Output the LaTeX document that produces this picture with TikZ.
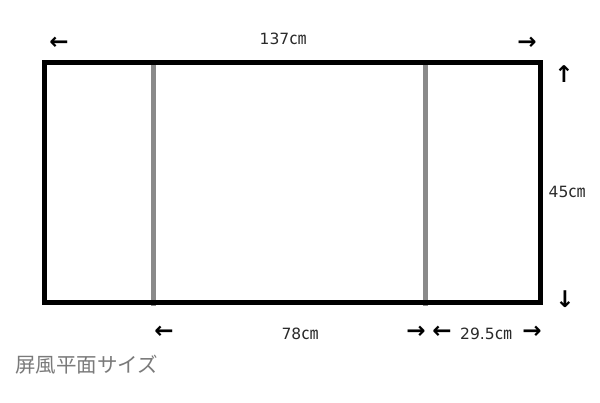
\documentclass[tikz,border=0pt]{standalone}
\usepackage{fontspec}
\setmainfont{DejaVu Sans}
\newfontfamily\jp{Noto Sans CJK JP}
\newfontfamily\arr{DejaVu Sans}
\newcommand{\cmunit}{{\jp\fontsize{17}{18}\selectfont ㎝}}
\definecolor{dimtext}{HTML}{2A2A2A}
\definecolor{panel}{HTML}{8A8A8A}
\definecolor{captxt}{HTML}{7A7A7A}
\begin{document}
\begin{tikzpicture}[x=1pt,y=-1pt,
  dimlabel/.style={inner sep=0pt,text=dimtext,font=\fontsize{15.5}{17}\selectfont},
  arrowglyph/.style={inner sep=0pt,text=black,font=\arr\bfseries\fontsize{23}{24}\selectfont},
  caption/.style={inner sep=0pt,text=captxt,font=\jp\fontsize{20.5}{22}\selectfont,anchor=west}]
\useasboundingbox[fill=white] (0,0) rectangle (600,403);
% panels
\draw[panel,line width=4.5pt] (153.5,62) -- (153.5,306);
\draw[panel,line width=4.5pt] (425.5,62) -- (425.5,306);
\draw[black,line width=5pt] (44.5,62.5) rectangle (540.5,302.5);
% top dimension
\node[arrowglyph] (tl) at (59,43) {←};
\node[dimlabel] (w) at (283,39) {137\cmunit};
\node[arrowglyph] (tr) at (527,43) {→};
% right dimension
\node[arrowglyph] (up) at (564,74) {↑};
\node[dimlabel] (h) at (567,192) {45\cmunit};
\node[arrowglyph] (dn) at (565,299) {↓};
% bottom dimensions
\node[arrowglyph] (bl) at (164,332) {←};
\node[dimlabel] (m) at (300,334) {78\cmunit};
\node[arrowglyph] (br) at (416,332) {→};
\node[arrowglyph] (sl) at (442,332) {←};
\node[dimlabel] (s) at (486,334) {29.5\cmunit};
\node[arrowglyph] (sr) at (532,332) {→};
% caption
\node[caption] (cap) at (15,365) {屏風平面サイズ};
\end{tikzpicture}
\end{document}
